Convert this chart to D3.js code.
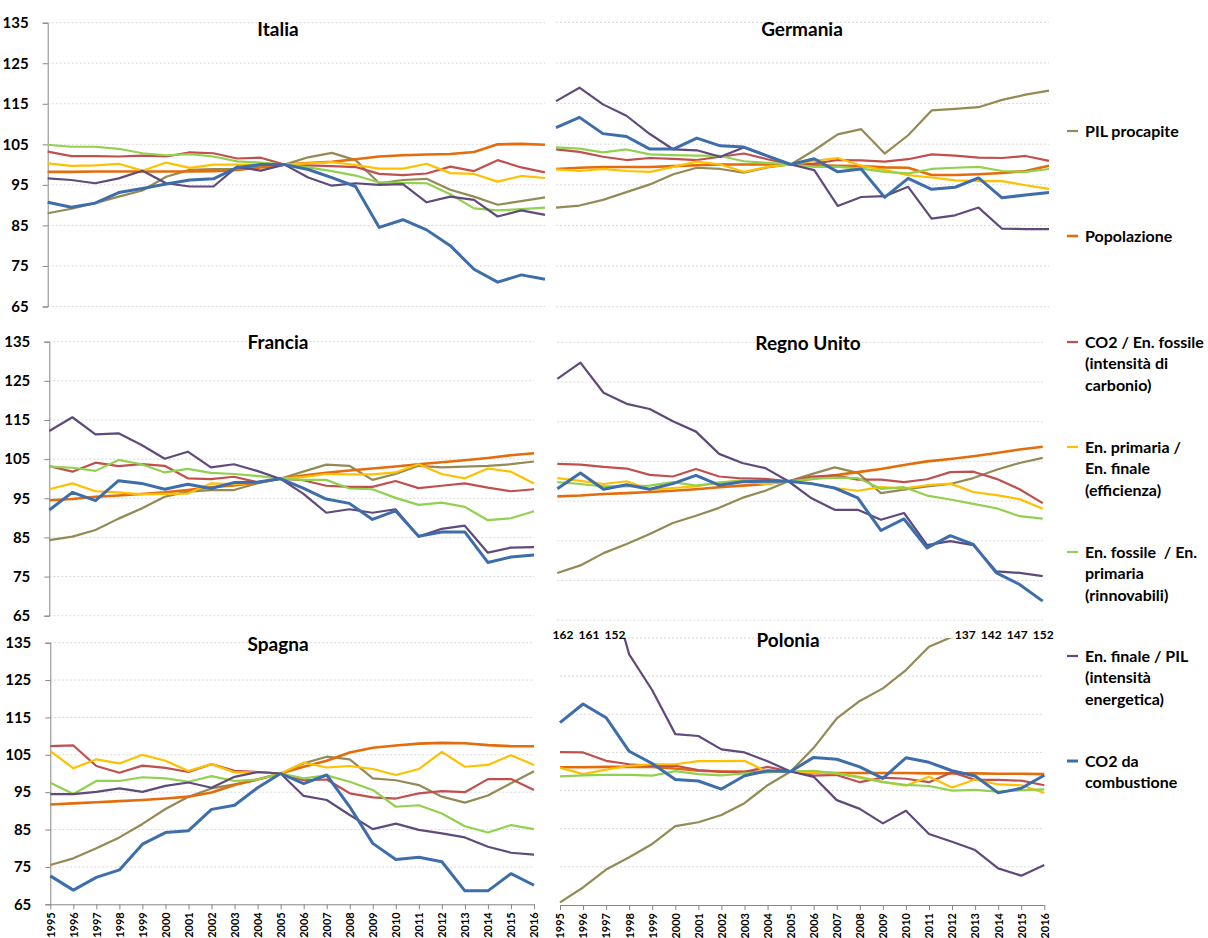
<!DOCTYPE html>
<html>
<head>
<meta charset="utf-8">
<script src="https://cdnjs.cloudflare.com/ajax/libs/d3/7.8.5/d3.min.js"></script>
<style>
body { margin: 0; background: #fff; }
text { font-family: Lato, "Liberation Sans", sans-serif; font-weight: bold; fill: #000; }
</style>
</head>
<body>
<svg id="chart" width="1208" height="938"></svg>
<script>
// ---- data (index 2005 = 100) ----
var years = [1995,1996,1997,1998,1999,2000,2001,2002,2003,2004,2005,2006,2007,2008,2009,2010,2011,2012,2013,2014,2015,2016];
var yTicks = [65,75,85,95,105,115,125,135];

var seriesNames = ["PIL procapite","Popolazione","CO2 / En. fossile (intensità di carbonio)","En. primaria / En. finale (efficienza)","En. fossile  / En. primaria (rinnovabili)","En. finale / PIL (intensità energetica)","CO2 da combustione"];
var legendLines = [
  ["PIL procapite"],
  ["Popolazione"],
  ["CO2 / En. fossile","(intensità di","carbonio)"],
  ["En. primaria /","En. finale","(efficienza)"],
  ["En. fossile  / En.","primaria","(rinnovabili)"],
  ["En. finale / PIL","(intensità","energetica)"],
  ["CO2 da","combustione"]
];
var colors = ["#948A54","#E46C0A","#C0504D","#FFC000","#92D050","#604A7B","#3D6DAA"];
var widths = [2.2, 2.6, 2.2, 2.2, 2.2, 2.2, 3];

// order of rows: pil, popolazione, co2/fossile, primaria/finale, fossile/primaria, finale/pil, co2
var italia = [
  [88.0,89.1,90.5,92.1,93.6,97.0,98.7,98.9,98.9,99.8,100,101.8,102.9,101.1,95.4,96.2,96.5,93.8,92.1,90.1,91.0,91.9],
  [98.2,98.2,98.3,98.3,98.3,98.3,98.3,98.4,98.7,99.3,100,100.4,100.7,101.3,102.0,102.3,102.5,102.6,103.1,105.0,105.1,104.9],
  [103.2,102.1,102.1,102.0,102.2,102.0,103.0,102.8,101.5,101.7,100,99.8,99.6,99.4,97.7,97.4,97.8,99.5,98.4,101.1,99.3,98.1],
  [100.3,99.7,99.8,100.2,98.5,100.5,99.2,100.0,100.0,100.0,100,100.3,100.6,99.9,99.0,99.0,100.2,97.9,97.7,95.8,97.2,96.7],
  [104.9,104.4,104.4,103.9,102.8,102.3,102.6,102.0,100.8,100.5,100,99.3,98.4,97.3,95.6,95.5,95.4,92.7,89.2,88.7,89.0,89.4],
  [96.6,96.2,95.4,96.6,98.5,95.4,94.6,94.6,99.5,98.5,100,96.8,94.8,95.4,95.0,95.2,90.7,92.1,91.3,87.2,88.7,87.6],
  [90.7,89.5,90.5,93.1,94.1,95.2,96.2,96.5,99.3,100.0,100,98.8,96.8,94.6,84.5,86.4,83.9,80.0,74.2,71.0,72.8,71.7]
];
var germania = [
  [89.4,89.9,91.3,93.2,95.1,97.6,99.2,98.9,98.0,99.3,100,103.5,107.4,108.7,102.7,107.2,113.3,113.7,114.1,115.9,117.2,118.2],
  [98.9,99.2,99.4,99.4,99.4,99.6,99.8,100,100,100,100,99.8,99.7,99.6,99.3,99.2,97.4,97.4,97.6,97.9,98.4,99.7],
  [103.7,103.1,101.9,101.1,101.6,101.4,101.1,101.9,102.7,101.3,100,100.2,101.1,101.0,100.7,101.3,102.5,102.2,101.7,101.6,102.1,100.9],
  [98.8,98.4,98.9,98.4,98.2,99.4,100.7,100,98.2,99.4,100,100.9,101.6,99.7,98.6,97.4,96.8,96.1,95.9,95.9,94.9,94.0],
  [104.2,103.9,103.0,103.7,102.5,102.3,102.2,102.1,100.8,100.4,100,99.4,99.4,99.0,98.2,97.8,98.9,99.2,99.4,98.4,98.2,98.9],
  [115.6,118.9,114.8,112.0,107.5,103.7,103.5,101.9,104.2,102.1,100,98.6,89.8,92.0,92.2,94.5,86.7,87.5,89.4,84.2,84.1,84.1],
  [109.1,111.6,107.6,106.9,103.8,103.8,106.5,104.6,104.3,102.1,100,101.4,98.2,98.9,91.9,96.6,93.9,94.4,96.7,91.8,92.5,93.1]
];
var francia = [
  [84.3,85.2,86.9,89.8,92.4,95.4,96.7,97.1,97.1,98.8,100,101.8,103.6,103.3,99.7,101.2,103.3,102.9,103.1,103.3,103.7,104.4],
  [94.5,94.8,95.4,95.7,96.1,96.5,97.1,97.8,98.3,99.0,100,100.8,101.5,102.1,102.6,103.1,103.7,104.2,104.7,105.3,106.0,106.5],
  [103.2,101.8,104.1,103.2,103.7,103.3,100.1,99.9,100.5,99.1,100,99.6,98.2,97.9,97.9,99.4,97.6,98.2,98.8,97.7,96.8,97.3],
  [97.3,98.8,96.8,96.5,96.0,96.1,96.2,98.8,98.6,99.1,100,100.4,101.2,101.1,101.1,101.6,103.7,101.2,100.1,102.6,101.8,98.8],
  [103.1,102.8,102.0,104.8,103.7,101.6,102.5,101.5,101.2,100.7,100,99.7,99.7,97.5,97.3,95.1,93.3,93.9,92.8,89.4,89.9,91.7],
  [112.2,115.7,111.3,111.6,108.6,105.1,106.9,102.9,103.7,102.0,100,96.2,91.3,92.2,91.3,92.2,85.2,87.2,88.0,81.1,82.4,82.5],
  [92.0,96.5,94.4,99.5,98.8,97.3,98.6,97.5,99.0,99.1,100,97.6,94.8,93.7,89.6,91.8,85.3,86.4,86.4,78.6,80.0,80.5]
];
var regnoUnito = [
  [76.9,78.8,81.9,84.2,86.7,89.5,91.3,93.3,95.8,97.6,100,101.8,103.5,102.1,97.0,97.9,98.7,99.3,100.8,102.9,104.6,105.9],
  [96.2,96.4,96.8,97.0,97.3,97.6,98.0,98.5,98.9,99.3,100,100.6,101.5,102.3,103.1,104.1,105.0,105.6,106.3,107.1,108.0,108.7],
  [104.4,104.2,103.6,103.2,101.6,101.2,103.1,101.2,100.7,100.6,100,101.2,101.5,100.4,100.4,99.8,100.5,102.3,102.4,100.6,98.0,94.5],
  [100.8,100.1,99.3,100.0,97.9,98.3,98.7,99.7,100.1,99.3,100,99.4,98.3,97.6,98.5,98.2,99.0,99.4,97.3,96.5,95.5,93.1],
  [99.8,99.3,98.7,98.7,98.9,99.8,98.9,99.6,100.2,99.9,100,100.6,100.9,100.8,98.1,98.5,96.4,95.4,94.3,93.2,91.2,90.6],
  [125.8,129.9,122.3,119.5,118.2,115.1,112.5,106.9,104.6,103.3,100,95.7,92.8,92.8,90.3,92.0,83.9,84.9,83.9,77.3,76.9,76.1],
  [98.1,102.1,98.0,99.1,98.0,99.4,101.5,99.0,99.9,100.0,100,99.4,98.3,95.8,87.6,90.5,83.2,86.3,84.1,76.9,74.0,69.8]
];
var spagna = [
  [75.5,77.3,80.0,82.9,86.5,90.5,93.8,96.0,97.1,98.4,100,102.7,104.5,103.8,98.7,98.2,96.9,93.8,92.2,94.1,97.4,100.6],
  [91.7,92.0,92.3,92.6,92.9,93.3,93.8,94.9,96.9,98.4,100,101.8,103.4,105.6,106.9,107.5,108.0,108.2,108.1,107.6,107.3,107.3],
  [107.3,107.5,102.0,100.2,102.1,101.5,100.4,102.5,100.7,100.4,100,98.2,98.4,94.7,93.6,93.3,94.7,95.3,95.0,98.5,98.5,95.6],
  [106.0,101.4,103.8,102.7,105.0,103.4,100.7,102.5,100.3,100.3,100,102.9,101.6,102.0,101.2,99.6,101.2,105.8,101.8,102.3,104.9,102.3],
  [97.5,94.5,98.0,98.0,99.0,98.7,97.8,99.3,98.0,98.4,100,98.7,99.5,97.8,95.6,91.1,91.5,89.3,85.9,84.2,86.2,85.1],
  [94.5,94.5,95.1,96.0,95.1,96.7,97.6,96.2,99.1,100.4,100,94.0,92.9,88.9,85.1,86.6,84.9,84.0,82.9,80.4,78.8,78.3],
  [72.6,68.8,72.2,74.2,81.1,84.2,84.7,90.4,91.5,96.2,100,97.3,99.6,91.1,81.3,77.0,77.6,76.4,68.6,68.6,73.2,70.1]
];
var polonia = [
  [65.7,69.6,74.3,77.5,81.0,85.7,86.7,88.6,91.7,96.4,100,106.2,113.9,118.5,121.8,126.6,132.7,135.3,137,142,147,152],
  [101.1,101.1,101.2,101.2,101.2,100.8,100.2,100.0,99.9,99.9,100,99.7,99.6,99.6,99.6,99.6,99.5,99.5,99.5,99.4,99.4,99.3],
  [105.1,105.0,102.8,101.9,101.5,101.5,100.4,99.9,99.9,101.2,100,98.9,99.1,97.2,98.4,98.1,97.2,99.8,97.8,97.8,97.6,96.4],
  [101.0,99.3,100.5,101.5,101.9,101.9,102.7,102.7,102.8,99.9,100,99.7,99.5,98.6,97.3,96.3,98.6,95.8,97.9,96.6,96.4,94.4],
  [98.7,99.0,99.1,99.1,98.9,100.1,99.3,99.0,99.5,99.8,100,100.2,99.5,98.4,97.2,96.5,96.2,95.0,95.2,94.7,95.1,95.3],
  [162,161,152,130.7,121.3,109.8,109.3,105.8,105.0,102.7,100,98.6,92.5,90.2,86.4,89.7,83.6,81.6,79.4,74.6,72.7,75.5],
  [112.8,117.7,114.1,105.3,102.1,97.9,97.5,95.4,98.9,100.2,100,103.7,103.2,101.2,98.2,103.6,102.4,100.2,98.8,94.4,95.6,99.0]
];

// ---- layout of the six small charts ----
var panels = [
  {title:"Italia",      data:italia,     x0:47.7,  x1:545,    yT:22.7,  yB:306.5, left:true,  bottom:false, tx:278, ty:36},
  {title:"Germania",    data:germania,   x0:556,   x1:1049,   yT:22.3,  yB:306.7, left:false, bottom:false, tx:802, ty:36},
  {title:"Francia",     data:francia,    x0:49.3,  x1:534,    yT:341.7, yB:615.7, left:true,  bottom:false, tx:278, ty:349},
  {title:"Regno Unito", data:regnoUnito, x0:557.3, x1:1042.7, yT:342.3, yB:620.2, left:false, bottom:false, tx:808, ty:350},
  {title:"Spagna",      data:spagna,     x0:50.3,  x1:534,    yT:642.7, yB:904.3, left:true,  bottom:true,  tx:278, ty:651},
  {title:"Polonia",     data:polonia,    x0:560,   x1:1044.3, yT:638,   yB:905,   left:false, bottom:true,  tx:788, ty:647}
];

var svg = d3.select("#chart");

panels.forEach(function(p, pi) {
  var x = d3.scalePoint().domain(years).range([p.x0, p.x1]);
  var y = d3.scaleLinear().domain([65, 135]).range([p.yB, p.yT]);
  var g = svg.append("g");

  // dotted gridlines
  g.selectAll("line.grid")
    .data(yTicks.filter(function(t){ return !(p.bottom && t == 65); }))
    .enter().append("line")
    .attr("x1", p.x0).attr("x2", p.x1)
    .attr("y1", function(d){ return y(d); }).attr("y2", function(d){ return y(d); })
    .attr("stroke", "#d9d9d9").attr("stroke-width", 1)
    .attr("stroke-dasharray", "2,2");

  if (p.left) {
    var ya = g.append("g").attr("transform", "translate(" + p.x0 + ",0)")
      .call(d3.axisLeft(y).tickValues(yTicks).tickSize(5).tickPadding(14).tickFormat(d3.format("d")));
    ya.select(".domain").attr("stroke", "#868686");
    ya.selectAll(".tick line").attr("stroke", "#868686");
    ya.selectAll("text").style("font-size", "15px").attr("fill", "#000");
  }
  if (p.bottom) {
    var xa = g.append("g").attr("transform", "translate(0," + p.yB + ")")
      .call(d3.axisBottom(x).tickSize(5).tickSizeOuter(0));
    xa.select(".domain").attr("stroke", "#868686");
    xa.selectAll(".tick line").attr("stroke", "#868686");
    xa.selectAll("text")
      .style("font-size", "11px").attr("fill", "#000")
      .attr("transform", "rotate(-90)")
      .attr("text-anchor", "end")
      .attr("x", -8).attr("y", 0).attr("dy", "0.35em");
  }

  var clipId = "clip" + pi;
  svg.append("clipPath").attr("id", clipId).append("rect")
    .attr("x", p.x0 - 3).attr("y", p.yT).attr("width", p.x1 - p.x0 + 6).attr("height", p.yB - p.yT);

  var line = d3.line()
    .x(function(d, i){ return x(years[i]); })
    .y(function(d){ return y(d); });

  g.append("g").attr("clip-path", "url(#" + clipId + ")")
    .selectAll("path").data(p.data).enter().append("path")
    .attr("d", line)
    .attr("fill", "none")
    .attr("stroke", function(d, i){ return colors[i]; })
    .attr("stroke-width", function(d, i){ return widths[i]; })
    .attr("stroke-linejoin", "round");

  // labels for values off the top of the scale
  p.data.forEach(function(s) {
    var over = [];
    s.forEach(function(v, i){ if (v > 136) over.push({v: v, i: i}); });
    if (!over.length) return;
    var fromLeft = over[0].i == 0;
    over.forEach(function(o, k) {
      var lx = fromLeft ? x(years[0]) + 3 + 26 * k : x(years[years.length - 1]) - 1 - 26 * (over.length - 1 - k);
      g.append("text").attr("x", lx).attr("y", p.yT + 1)
        .attr("text-anchor", "middle").style("font-size", "12px")
        .text(Math.round(o.v));
    });
  });

  g.append("text").attr("x", p.tx).attr("y", p.ty)
    .attr("text-anchor", "middle").style("font-size", "19px")
    .text(p.title);
});

// ---- legend ----
var legendY = [131, 236, 342, 447, 552, 656, 761];
var lg = svg.append("g");
legendLines.forEach(function(lines, i) {
  lg.append("line").attr("x1", 1067).attr("x2", 1078)
    .attr("y1", legendY[i]).attr("y2", legendY[i])
    .attr("stroke", colors[i]).attr("stroke-width", widths[i]);
  lines.forEach(function(t, k) {
    lg.append("text").attr("x", 1085).attr("y", legendY[i] + k * 21.7).attr("dy", "0.35em")
      .style("font-size", "16px").style("white-space", "pre").text(t);
  });
});
</script>
</body>
</html>
